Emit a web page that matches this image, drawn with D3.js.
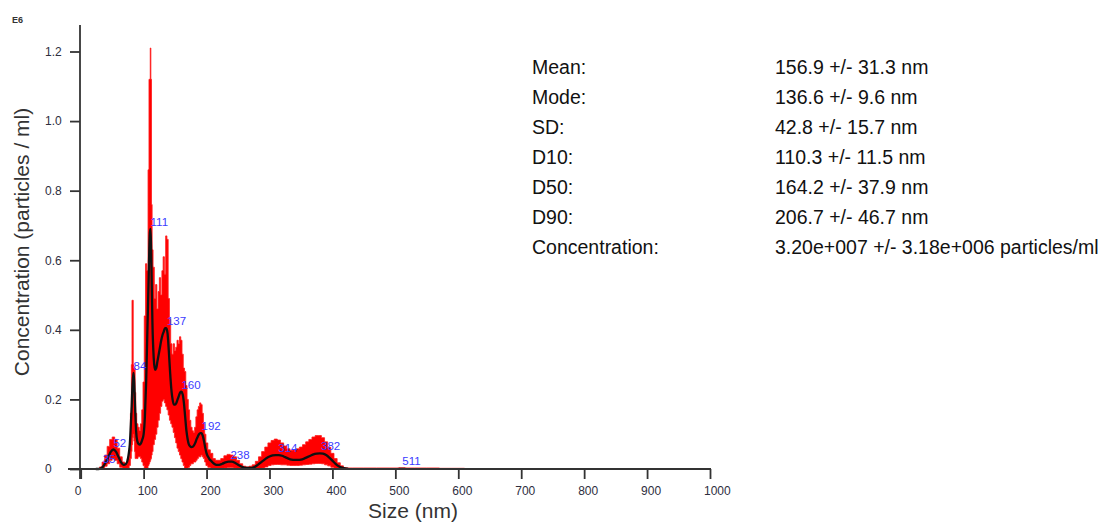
<!DOCTYPE html>
<html>
<head>
<meta charset="utf-8">
<script src="https://cdn.jsdelivr.net/npm/d3@7"></script>
<style>
  html, body { margin: 0; padding: 0; background: #fff; }
  svg { display: block; font-family: "Liberation Sans", Arial, sans-serif; }
</style>
</head>
<body>
<svg id="chart" width="1116" height="524"></svg>
<script>
// ---------------- DATA ----------------
const sizes = [24,28,32,36,40,44,48,52,56,60,64,68,72,76,78,80,81,82,83,84,85,86,87,88,90,92,94,96,98,
  100,102,104,106,108,109,110,111,112,113,114,116,118,120,122,124,126,128,130,132,134,136,138,140,142,144,146,148,150,
  152,154,156,158,160,162,164,166,168,170,172,174,176,178,180,182,184,186,188,190,192,194,196,198,200,
  204,208,212,216,220,225,230,235,240,245,250,255,260,265,270,275,280,285,290,295,300,305,310,315,320,325,330,
  335,340,345,350,355,360,365,370,375,380,385,390,395,400,405,410,415,420,425,440,460,480,500,511,520,540,560,580,600,620,640,650];
const meanConc = [0,0,0.002,0.008,0.02,0.035,0.05,0.056,0.05,0.035,0.02,0.012,0.015,0.04,0.07,0.14,0.18,0.23,0.26,0.276,0.25,0.2,0.15,0.11,0.08,0.072,0.07,0.075,0.085,
  0.1,0.15,0.25,0.4,0.55,0.63,0.68,0.69,0.62,0.52,0.42,0.32,0.285,0.29,0.31,0.33,0.35,0.37,0.385,0.395,0.405,0.405,0.39,0.34,0.28,0.23,0.2,0.185,0.185,
  0.19,0.2,0.21,0.22,0.222,0.215,0.19,0.15,0.11,0.085,0.07,0.065,0.063,0.064,0.068,0.075,0.085,0.093,0.1,0.103,0.103,0.095,0.08,0.06,0.045,
  0.03,0.022,0.015,0.012,0.012,0.015,0.019,0.021,0.021,0.018,0.012,0.007,0.004,0.003,0.003,0.005,0.01,0.017,0.024,0.031,0.036,0.039,0.04,0.04,0.038,0.034,0.03,
  0.027,0.026,0.026,0.027,0.03,0.034,0.038,0.042,0.044,0.045,0.044,0.04,0.033,0.024,0.015,0.008,0.004,0.002,0.001,0.001,0.001,0.001,0.001,0.002,0.001,0.001,0.001,0.001,0.001,0.001,0.001,0.001];
const lowerConc = [0,0,0,0.002,0.008,0.015,0.025,0.03,0.025,0.015,0.005,0.001,0,0.002,0.01,0.03,0.05,0.07,0.09,0.1,0.08,0.05,0.03,0.03,0.03,0.035,0.035,0.03,0.02,
  0.01,0,0,0,0.01,0.015,0.02,0.025,0.03,0.04,0.05,0.07,0.085,0.1,0.12,0.14,0.16,0.18,0.195,0.2,0.19,0.18,0.17,0.155,0.14,0.13,0.12,0.105,0.09,
  0.075,0.06,0.05,0.04,0.03,0.02,0.01,0,0,0,0.005,0.01,0.015,0.015,0.02,0.02,0.025,0.03,0.035,0.035,0.04,0.035,0.03,0.02,0.01,
  0.005,0,0,0,0,0,0.003,0.004,0.004,0.003,0.001,0,0,0,0,0,0,0,0.003,0.006,0.01,0.012,0.013,0.013,0.012,0.012,0.011,
  0.01,0.01,0.01,0.011,0.012,0.013,0.014,0.015,0.016,0.016,0.015,0.012,0.009,0.005,0.002,0,0,0,0,0,0,0,0,0,0,0,0,0,0,0,0,0];
const upperConc = [0,0,0.006,0.02,0.04,0.065,0.085,0.092,0.085,0.06,0.035,0.02,0.015,0.03,0.06,0.16,0.3,0.485,0.485,0.3,0.29,0.29,0.22,0.16,0.13,0.12,0.11,0.13,0.17,
  0.25,0.44,0.59,0.57,0.86,1.12,1.12,1.21,1.12,0.76,0.63,0.58,0.49,0.53,0.46,0.51,0.55,0.5,0.57,0.61,0.56,0.67,0.66,0.49,0.43,0.36,0.33,0.36,0.34,
  0.35,0.37,0.36,0.38,0.37,0.33,0.29,0.28,0.24,0.2,0.17,0.14,0.12,0.11,0.105,0.12,0.15,0.17,0.18,0.19,0.185,0.16,0.13,0.1,0.075,
  0.055,0.045,0.03,0.025,0.025,0.03,0.038,0.042,0.04,0.035,0.025,0.015,0.008,0.006,0.008,0.012,0.022,0.035,0.05,0.063,0.075,0.082,0.086,0.083,0.075,0.066,0.058,
  0.054,0.055,0.058,0.063,0.07,0.078,0.085,0.092,0.096,0.096,0.09,0.078,0.062,0.045,0.03,0.018,0.009,0.004,0.003,0.003,0.003,0.003,0.003,0.004,0.003,0.003,0.003,0.002,0.002,0,0,0];
const peakLabels = [35,52,84,111,137,160,192,238,314,382,511];
const yTicks = [0,0.2,0.4,0.6,0.8,1.0,1.2];
const xTicks = [0,100,200,300,400,500,600,700,800,900,1000];
const statNames = ["Mean:","Mode:","SD:","D10:","D50:","D90:","Concentration:"];
const statValues = ["156.9 +/- 31.3 nm","136.6 +/- 9.6 nm","42.8 +/- 15.7 nm","110.3 +/- 11.5 nm","164.2 +/- 37.9 nm","206.7 +/- 46.7 nm","3.20e+007 +/- 3.18e+006 particles/ml"];

// ---------------- DRAW ----------------
const svg = d3.select("#chart");
const x = d3.scaleLinear().domain([0, 1000]).range([80.7, 710]);
const y = d3.scaleLinear().domain([0, 1.2]).range([469, 51.5]);

const rows = sizes.map((s, i) => ({s, m: meanConc[i], lo: lowerConc[i], hi: upperConc[i]}));

// red error band
svg.append("path")
  .datum(rows.filter(d => d.s <= 620))
  .attr("fill", "#ff0000")
  .attr("stroke", "#ff1a1a")
  .attr("stroke-width", 0.8)
  .attr("d", d3.area().x(d => x(d.s)).y0(d => y(d.lo)).y1(d => y(d.hi)).curve(d3.curveStep));

// black mean line
svg.append("path")
  .datum(rows.filter(d => d.s <= 430))
  .attr("fill", "none")
  .attr("stroke", "#111")
  .attr("stroke-width", 2.3)
  .attr("d", d3.line().x(d => x(d.s)).y(d => y(d.m)).curve(d3.curveMonotoneX));
svg.append("path")
  .datum(rows.filter(d => d.s >= 425))
  .attr("fill", "none")
  .attr("stroke", "#777")
  .attr("stroke-width", 1.5)
  .attr("d", d3.line().x(d => x(d.s)).y(d => y(d.m)).curve(d3.curveMonotoneX));

// peak labels
function meanAt(s) {
  let best = rows[0];
  rows.forEach(r => { if (Math.abs(r.s - s) < Math.abs(best.s - s)) best = r; });
  return best.m;
}
svg.append("g").selectAll("text").data(peakLabels).join("text")
  .attr("x", d => x(d))
  .attr("y", d => y(meanAt(d)) - 3)
  .attr("fill", "#3b3bff")
  .attr("font-size", 11.5)
  .text(d => d);

// axes
const axisColor = "#333";
const yAxis = svg.append("g").attr("transform", "translate(80,0)")
  .call(d3.axisLeft(y).tickValues(yTicks).tickSize(10).tickFormat(d => d === 0 ? "0" : d.toFixed(1)));
yAxis.select(".domain").remove();
yAxis.selectAll(".tick line").attr("stroke", axisColor).attr("stroke-width", 1.8);
yAxis.selectAll(".tick text").attr("x", -35).attr("text-anchor", "start")
  .attr("font-size", 12).attr("fill", "#2e2e3e").attr("font-family", "Liberation Sans, Arial, sans-serif");

const xAxis = svg.append("g").attr("transform", "translate(0,469)")
  .call(d3.axisBottom(x).tickValues(xTicks).tickSize(10).tickFormat(d3.format("d")));
xAxis.select(".domain").remove();
xAxis.selectAll(".tick line").attr("stroke", axisColor).attr("stroke-width", 1.8);
xAxis.selectAll(".tick text").attr("x", -6.5).attr("y", 26).attr("dy", 0).attr("text-anchor", "start")
  .attr("font-size", 12).attr("fill", "#2e2e3e").attr("font-family", "Liberation Sans, Arial, sans-serif");

svg.append("line").attr("x1", 68).attr("x2", 711).attr("y1", 469).attr("y2", 469)
  .attr("stroke", axisColor).attr("stroke-width", 1.8);
svg.append("line").attr("x1", 80).attr("x2", 80).attr("y1", 25).attr("y2", 479)
  .attr("stroke", axisColor).attr("stroke-width", 1.8);

// multiplier label
svg.append("text").attr("x", 12).attr("y", 23).attr("font-size", 9).attr("font-weight", "bold")
  .attr("fill", "#333").text("E6");

// axis titles
svg.append("text").attr("transform", "translate(29,242) rotate(-90)").attr("text-anchor", "middle")
  .attr("font-size", 21).attr("fill", "#333").text("Concentration (particles / ml)");
svg.append("text").attr("x", 413).attr("y", 518).attr("text-anchor", "middle")
  .attr("font-size", 21).attr("fill", "#333").text("Size (nm)");

// stats block
const stats = svg.append("g");
stats.selectAll("text.n").data(statNames).join("text").attr("class", "n")
  .attr("x", 532).attr("y", (d, i) => 74 + i * 30).attr("font-size", 19.5).attr("fill", "#111").text(d => d);
stats.selectAll("text.v").data(statValues).join("text").attr("class", "v")
  .attr("x", 775).attr("y", (d, i) => 74 + i * 30).attr("font-size", 19.5).attr("fill", "#111").text(d => d);
</script>
</body>
</html>
